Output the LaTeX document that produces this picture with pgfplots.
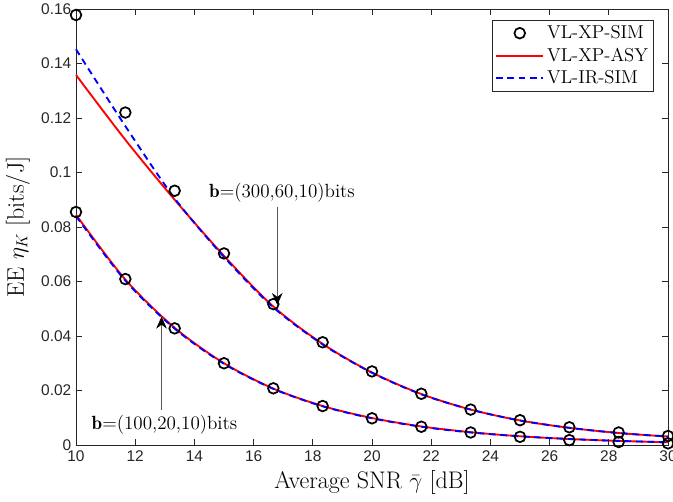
\documentclass[border=0pt]{standalone}
\usepackage{pgfplots}
\pgfplotsset{compat=1.18}
\usetikzlibrary{arrows.meta,calc}
\usepackage{fontspec}
\newfontfamily\arial{Liberation Sans}
\definecolor{axgray}{RGB}{38,38,38}
\pgfplotsset{
  lineleg/.style={legend image code/.code={\draw[##1] (0cm,0cm) -- (1.25cm,0cm);}},
  markleg/.style={legend image code/.code={\draw[##1] plot coordinates {(0.625cm,0cm)};}},
}
\begin{document}
\begin{tikzpicture}
\begin{axis}[
  scale only axis, width=444pt, height=327pt,
  xmin=10, xmax=30, ymin=0, ymax=0.16,
  xtick={10,12,...,30},
  xticklabels={10,12,14,16,18,20,22,24,26,28,30},
  ytick={0,0.02,0.04,0.06,0.08,0.1,0.12,0.14,0.16},
  yticklabels={0,0.02,0.04,0.06,0.08,0.1,0.12,0.14,0.16},
  tick align=inside, tick pos=both,
  major tick length=4.5pt,
  axis line style={axgray, line width=0.6pt},
  every tick/.style={axgray, line width=0.5pt},
  tick label style={font=\arial\fontsize{11.6}{12}\selectfont, text=axgray},
  xticklabel style={yshift=-1pt},
  label style={font=\fontsize{18}{20}\selectfont},
  xlabel={Average SNR $\bar{\gamma}$ [dB]},
  ylabel={EE $\eta_K$ [bits/J]},
  xlabel style={at={(axis description cs:0.5,-0.085)}, anchor=center},
  ylabel style={at={(axis description cs:-0.098,0.5)}, anchor=center},
  clip=false,
  legend style={at={(0.976,0.975)}, anchor=north east, draw=axgray, line width=0.6pt,
    font=\fontsize{14}{16}\selectfont, inner xsep=2pt, inner ysep=2pt, row sep=1.5pt,
    fill=white},
  legend cell align=left,
]
% upper SIM
\addplot[only marks, mark=o, mark size=4pt, line width=1.3pt, black, markleg] coordinates {
(10,0.1578)(11.667,0.1220)(13.333,0.0933)(15,0.0703)(16.667,0.0517)(18.333,0.0377)
(20,0.0270)(21.667,0.0188)(23.333,0.0130)(25,0.0091)(26.667,0.0065)(28.333,0.0046)(30,0.0033)};
\addlegendentry{VL-XP-SIM}
\addplot[red, line width=1.4pt, smooth, lineleg] coordinates {
(10,0.1358)(11.667,0.1120)(13.333,0.0900)(15,0.0694)(16.667,0.0508)(18.333,0.0371)
(20,0.0266)(21.667,0.0187)(23.333,0.0130)(25,0.0090)(26.667,0.0063)(28.333,0.0044)(30,0.0031)};
\addlegendentry{VL-XP-ASY}
\addplot[blue, line width=1.4pt, dash pattern=on 5pt off 3.5pt, smooth, lineleg] coordinates {
(10,0.1452)(11.667,0.1170)(13.333,0.0905)(15,0.0690)(16.667,0.0505)(18.333,0.0369)
(20,0.0265)(21.667,0.0186)(23.333,0.0130)(25,0.0090)(26.667,0.0063)(28.333,0.0044)(30,0.0031)};
\addlegendentry{VL-IR-SIM}
% lower
\addplot[only marks, mark=o, mark size=4pt, line width=1.3pt, black, forget plot] coordinates {
(10,0.0855)(11.667,0.0609)(13.333,0.0428)(15,0.0300)(16.667,0.0208)(18.333,0.0143)
(20,0.0098)(21.667,0.0067)(23.333,0.0046)(25,0.0030)(26.667,0.0018)(28.333,0.0011)(30,0.0006)};
\addplot[red, line width=1.4pt, smooth, forget plot] coordinates {
(10,0.0845)(11.667,0.0607)(13.333,0.0430)(15,0.0300)(16.667,0.0207)(18.333,0.0143)
(20,0.0099)(21.667,0.0068)(23.333,0.0047)(25,0.0032)(26.667,0.0022)(28.333,0.0015)(30,0.0010)};
\addplot[blue, line width=1.4pt, dash pattern=on 5pt off 3.5pt, smooth, forget plot] coordinates {
(10,0.0840)(11.667,0.0603)(13.333,0.0427)(15,0.0298)(16.667,0.0206)(18.333,0.0142)
(20,0.0098)(21.667,0.0067)(23.333,0.0046)(25,0.0032)(26.667,0.0022)(28.333,0.0015)(30,0.0010)};
% annotations
\draw[gray!70!black, line width=0.5pt, -{Stealth[length=9pt,width=8pt,inset=3pt,black]}] (axis cs:16.80,0.0875) -- (axis cs:16.80,0.0514);
\node[font=\fontsize{14.3}{16}\selectfont, anchor=south] at (axis cs:16.96,0.0875) {$\mathbf{b}$=(300,60,10)bits};
\draw[gray!70!black, line width=0.5pt, -{Stealth[length=9pt,width=8pt,inset=3pt,black]}] (axis cs:12.89,0.0128) -- (axis cs:12.89,0.0471);
\node[font=\fontsize{14.3}{16}\selectfont, anchor=north] at (axis cs:12.99,0.0128) {$\mathbf{b}$=(100,20,10)bits};
\end{axis}
\pgfresetboundingbox
\useasboundingbox ($(current axis.south west)+(-57pt,-42.75pt)$) rectangle ($(current axis.north east)+(3.75pt,6.75pt)$);
\end{tikzpicture}
\end{document}
